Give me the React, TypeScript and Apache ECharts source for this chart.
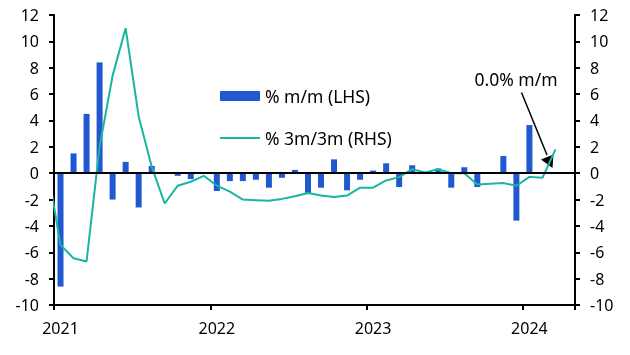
import React, { useEffect, useRef } from "react";
import * as echarts from "echarts";

const months: string[] = [
  "2021-01", "2021-02", "2021-03", "2021-04", "2021-05", "2021-06", "2021-07", "2021-08", "2021-09", "2021-10", "2021-11", "2021-12",
  "2022-01", "2022-02", "2022-03", "2022-04", "2022-05", "2022-06", "2022-07", "2022-08", "2022-09", "2022-10", "2022-11", "2022-12",
  "2023-01", "2023-02", "2023-03", "2023-04", "2023-05", "2023-06", "2023-07", "2023-08", "2023-09", "2023-10", "2023-11", "2023-12",
  "2024-01", "2024-02", "2024-03", "2024-04",
];

// % m/m (LHS)
const mmValues: (number | null)[] = [
  -8.6, 1.5, 4.5, 8.4, -2.0, 0.86, -2.6, 0.55, 0.0, -0.2, -0.45, 0.0,
  -1.35, -0.6, -0.6, -0.5, -1.1, -0.35, 0.25, -1.5, -1.1, 1.05, -1.3, -0.5,
  0.2, 0.75, -1.05, 0.6, 0.0, 0.35, -1.1, 0.45, -1.05, 0.0, 1.3, -3.6,
  3.65, 0.0, 0.0, null,
];

// % 3m/3m (RHS) — starts one month before the axis (clipped at the left edge)
const rhsMonths: string[] = [
  "2020-12",
  "2021-01", "2021-02", "2021-03", "2021-04", "2021-05", "2021-06", "2021-07", "2021-08", "2021-09", "2021-10", "2021-11", "2021-12",
  "2022-01", "2022-02", "2022-03", "2022-04", "2022-05", "2022-06", "2022-07", "2022-08", "2022-09", "2022-10", "2022-11", "2022-12",
  "2023-01", "2023-02", "2023-03", "2023-04", "2023-05", "2023-06", "2023-07", "2023-08", "2023-09", "2023-10", "2023-11", "2023-12",
  "2024-01", "2024-02", "2024-03",
];
const rhsValues: number[] = [
  0.4,
  -5.45, -6.45, -6.7, 2.0, 7.4, 11.0, 4.3, 0.5, -2.3, -0.95, -0.65, -0.2,
  -0.95, -1.4, -2.0, -2.05, -2.1, -1.95, -1.75, -1.5, -1.7, -1.8, -1.7, -1.1,
  -1.1, -0.55, -0.3, 0.3, 0.05, 0.3, 0.0, 0.0, -0.85, -0.8, -0.75, -0.95,
  -0.28, -0.35, 1.8,
];

const yTicksMin = -10;
const yTicksMax = 12;
const yTickStep = 2;

const legendLabels = ["% m/m (LHS)", "% 3m/3m (RHS)"];
const annotationText = "0.0% m/m";

const BAR_COLOR = "#2158d0";
const LINE_COLOR = "#19b5a3";
const FONT = "Noto Sans";
const FS = 16;
const FS_TEXT = 17.5;

export default function App() {
  const ref = useRef<HTMLDivElement>(null);

  useEffect(() => {
    if (!ref.current) return;
    const chart = echarts.init(ref.current, undefined, { renderer: "svg" });

    const monthIdx = (m: string) => {
      const [y, mo] = m.split("-").map(Number);
      const [y0, m0] = months[0].split("-").map(Number);
      return (y - y0) * 12 + (mo - m0);
    };
    const lineData = rhsMonths.map((m, k) => [monthIdx(m) + 0.5, rhsValues[k]]);

    const yAxisCommon = {
      type: "value",
      min: yTicksMin,
      max: yTicksMax,
      interval: yTickStep,
      splitLine: { show: false },
      axisLine: { show: true, lineStyle: { color: "#000", width: 2 } },
      axisTick: { show: true, length: 5, lineStyle: { color: "#000", width: 2 } },
      axisLabel: { color: "#000", fontSize: FS, fontFamily: FONT, margin: 15 },
    };

    chart.setOption({
      animation: false,
      textStyle: { fontFamily: FONT },
      grid: { left: 54, right: 55, top: 15, bottom: 50, containLabel: false },
      xAxis: [
        {
          type: "category",
          data: months,
          boundaryGap: true,
          axisLine: { show: true, onZero: false, lineStyle: { color: "#000", width: 2 } },
          axisTick: {
            show: true,
            length: 5,
            interval: (i: number) => i % 12 === 0,
            lineStyle: { color: "#000", width: 2 },
          },
          axisLabel: {
            interval: (i: number) => i % 12 === 0,
            formatter: (v: string) => v.slice(0, 4),
            color: "#000",
            fontSize: FS,
            fontFamily: FONT,
            margin: 15,
          },
          splitLine: { show: false },
        },
        {
          type: "value",
          min: 0,
          max: months.length,
          show: false,
        },
      ],
      yAxis: [
        { ...yAxisCommon, position: "left" },
        { ...yAxisCommon, position: "right" },
      ],
      series: [
        {
          name: legendLabels[0],
          type: "bar",
          xAxisIndex: 0,
          yAxisIndex: 0,
          data: mmValues,
          barWidth: 6,
          itemStyle: { color: BAR_COLOR },
          z: 2,
          markLine: {
            silent: true,
            symbol: ["none", "none"],
            label: { show: false },
            lineStyle: { color: "#000", width: 2, type: "solid" },
            data: [{ yAxis: 0 }],
          },
        },
        {
          name: legendLabels[1],
          type: "line",
          xAxisIndex: 1,
          yAxisIndex: 1,
          data: lineData,
          showSymbol: false,
          symbol: "none",
          clip: true,
          lineStyle: { color: LINE_COLOR, width: 2 },
          z: 4,
        },
      ],
      graphic: [
        { type: "rect", shape: { x: 220, y: 91, width: 40, height: 10 }, style: { fill: BAR_COLOR } },
        {
          type: "text",
          style: { text: legendLabels[0], x: 265, y: 96, fill: "#000", fontSize: FS_TEXT, fontFamily: FONT, verticalAlign: "middle", align: "left" },
        },
        { type: "line", shape: { x1: 220, y1: 138, x2: 260, y2: 138 }, style: { stroke: LINE_COLOR, lineWidth: 2 } },
        {
          type: "text",
          style: { text: legendLabels[1], x: 265, y: 138, fill: "#000", fontSize: FS_TEXT, fontFamily: FONT, verticalAlign: "middle", align: "left" },
        },
        {
          type: "text",
          style: { text: annotationText, x: 516, y: 79, fill: "#000", fontSize: FS_TEXT, fontFamily: FONT, verticalAlign: "middle", align: "center" },
        },
        { type: "line", shape: { x1: 521.5, y1: 92.5, x2: 547, y2: 155 }, style: { stroke: "#000", lineWidth: 1.5 } },
        {
          type: "polygon",
          shape: { points: [[541, 159.5], [553.5, 154.5], [552.5, 168]] },
          style: { fill: "#000" },
        },
      ],
    });

    return () => chart.dispose();
  }, []);

  return (
    <div
      ref={ref}
      style={{ position: "fixed", left: 0, top: 0, width: 630, height: 355 }}
    />
  );
}
